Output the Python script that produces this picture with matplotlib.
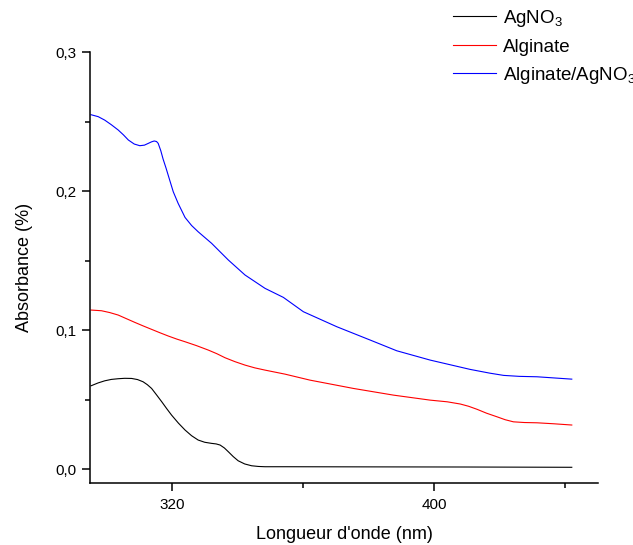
import matplotlib
matplotlib.use("Agg")
import matplotlib.pyplot as plt
from matplotlib.ticker import FixedLocator, FuncFormatter

plt.rcParams['font.family'] = ['Liberation Sans', 'DejaVu Sans']
plt.rcParams['mathtext.default'] = 'regular'

# wavelength (nm) / absorbance
wl_blue = [295.3, 297.5, 299.5, 301.5, 303.6, 305.2, 306.7, 308.5, 310.2, 311.6,
           312.8, 313.8, 314.6, 315.3, 315.8, 316.6, 317.3, 318.2, 319.0, 320.4,
           321.9, 324.0, 326.0, 328.0, 332.1, 337.2, 342.3, 348.4, 354.0, 360.1,
           370.3, 380.5, 388.6, 398.8, 411.0, 417.0, 421.2, 426.0, 431.4, 442.0]
abs_blue = [0.2549, 0.2535, 0.2510, 0.2477, 0.2439, 0.2404, 0.2367, 0.2338, 0.2326, 0.2330,
            0.2343, 0.2354, 0.2360, 0.2356, 0.2343, 0.2290, 0.2230, 0.2165, 0.2103, 0.1995,
            0.1911, 0.1810, 0.1752, 0.1707, 0.1624, 0.1504, 0.1396, 0.1300, 0.1235, 0.1132,
            0.1024, 0.0928, 0.0851, 0.0784, 0.0717, 0.0690, 0.0674, 0.0667, 0.0664, 0.0647]

wl_red = [295.3, 298.5, 301.0, 303.6, 306.0, 308.7, 311.2, 313.8, 316.3, 318.9,
          321.5, 324.0, 327.5, 331.1, 333.7, 336.2, 339.2, 342.3, 345.3, 348.4,
          354.5, 362.1, 375.4, 387.6, 398.8, 404.0, 408.0, 410.5, 413.1, 416.0,
          419.2, 421.7, 424.2, 427.5, 431.4, 436.5, 442.0]
abs_red = [0.1144, 0.1139, 0.1126, 0.1108, 0.1083, 0.1055, 0.1030, 0.1005, 0.0981, 0.0957,
           0.0935, 0.0916, 0.0888, 0.0856, 0.0830, 0.0801, 0.0773, 0.0748, 0.0728, 0.0712,
           0.0683, 0.0640, 0.0580, 0.0532, 0.0496, 0.0484, 0.0468, 0.0452, 0.0430, 0.0402,
           0.0376, 0.0355, 0.0340, 0.0335, 0.0333, 0.0326, 0.0317]

wl_black = [295.3, 297.5, 299.5, 301.5, 303.6, 305.6, 307.7, 309.5, 311.2, 312.5,
            313.8, 315.3, 316.9, 318.4, 319.9, 322.0, 324.0, 326.0, 328.0, 330.0,
            332.1, 333.5, 334.7, 336.0, 337.2, 338.7, 340.2, 342.2, 344.3, 346.4,
            348.4, 354.5, 380.0, 410.0, 442.0]
abs_black = [0.0599, 0.0620, 0.0635, 0.0645, 0.0650, 0.0653, 0.0652, 0.0644, 0.0628, 0.0607,
             0.0580, 0.0534, 0.0484, 0.0435, 0.0388, 0.0330, 0.0281, 0.0240, 0.0209, 0.0193,
             0.0185, 0.0181, 0.0173, 0.0152, 0.0125, 0.0090, 0.0060, 0.0037, 0.0024, 0.0019,
             0.0017, 0.0017, 0.0016, 0.0015, 0.0013]

labels = ['AgNO$_3$', 'Alginate', 'Alginate/AgNO$_3$']

fig = plt.figure(figsize=(6.33, 5.45), dpi=100)
ax = fig.add_axes([90/633, 62/545, 508/633, 431/545])

ax.plot(wl_black, abs_black, color='black', lw=0.8, label=labels[0])
ax.plot(wl_red, abs_red, color='#ff0000', lw=0.8, label=labels[1])
ax.plot(wl_blue, abs_blue, color='#0000ff', lw=0.8, label=labels[2])

ax.set_xlim(295, 450)
ax.set_ylim(-0.01, 0.3)
ax.spines['top'].set_visible(False)
ax.spines['right'].set_visible(False)
ax.spines['left'].set_bounds(-0.01, 0.3)
for s in ('left', 'bottom'):
    ax.spines[s].set_linewidth(1.1)

ax.xaxis.set_major_locator(FixedLocator([320, 400]))
ax.xaxis.set_minor_locator(FixedLocator([360, 440]))
ax.yaxis.set_major_locator(FixedLocator([0.0, 0.1, 0.2, 0.3]))
ax.yaxis.set_minor_locator(FixedLocator([0.05, 0.15, 0.25]))
ax.yaxis.set_major_formatter(FuncFormatter(lambda v, p: ('%.1f' % v).replace('.', ',')))
ax.tick_params(which='major', direction='out', length=6, width=1.1, labelsize=11)
ax.tick_params(axis='x', which='major', pad=5)
ax.tick_params(which='minor', direction='out', length=3.5, width=1.1)

ax.set_xlabel("Longueur d'onde (nm)", fontsize=13, labelpad=10)
ax.set_ylabel('Absorbance (%)', fontsize=13, labelpad=16)

fig.legend(loc='upper left', bbox_to_anchor=(453/633, 1 - 8/545), frameon=False,
           borderpad=0, borderaxespad=0, handlelength=2.3, handletextpad=0.35,
           labelspacing=0.5, fontsize=13.5)

fig.savefig('out.png', dpi=100)
